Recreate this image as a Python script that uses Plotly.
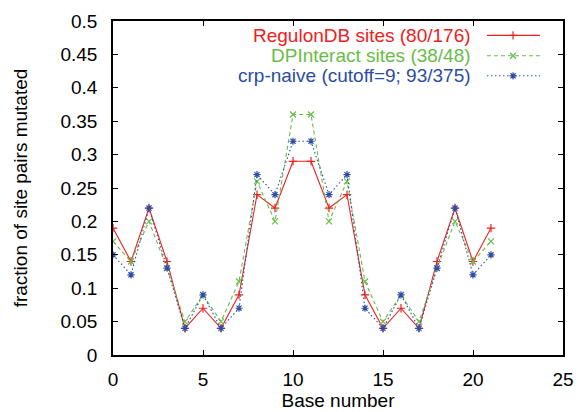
import plotly.graph_objects as go

base = list(range(22))
regulondb = [0.19, 0.14, 0.22, 0.14, 0.04, 0.07, 0.04, 0.09, 0.24, 0.22, 0.29,
             0.29, 0.22, 0.24, 0.09, 0.04, 0.07, 0.04, 0.14, 0.22, 0.14, 0.19]
dpinteract = [0.17, 0.14, 0.20, 0.13, 0.05, 0.09, 0.05, 0.11, 0.26, 0.20, 0.36,
              0.36, 0.20, 0.26, 0.11, 0.05, 0.09, 0.05, 0.13, 0.20, 0.14, 0.17]
crp_naive = [0.15, 0.12, 0.22, 0.13, 0.04, 0.09, 0.04, 0.07, 0.27, 0.24, 0.32,
             0.32, 0.24, 0.27, 0.07, 0.04, 0.09, 0.04, 0.13, 0.22, 0.12, 0.15]

series_names = ["RegulonDB sites (80/176)", "DPInteract sites (38/48)",
                "crp-naive (cutoff=9; 93/375)"]
x_ticks = [0, 5, 10, 15, 20, 25]
y_ticks = [0, 0.05, 0.1, 0.15, 0.2, 0.25, 0.3, 0.35, 0.4, 0.45, 0.5]
y_tick_text = ["0", "0.05", "0.1", "0.15", "0.2", "0.25", "0.3", "0.35", "0.4", "0.45", "0.5"]

colors = ["#ee2020", "#68bd48", "#2c4ca6"]
dashes = ["solid", "4px,3px", "1.5px,2.5px"]
symbols = ["cross-thin-open", "x-thin-open", "asterisk-open"]
FONT = "Liberation Sans, Arial, Helvetica, sans-serif"

fig = go.Figure()
for name, vals, c, d, s in zip(series_names, [regulondb, dpinteract, crp_naive], colors, dashes, symbols):
    fig.add_trace(go.Scatter(
        x=base, y=vals, mode="lines+markers", name=name,
        line=dict(color=c, width=1.1, dash=d),
        marker=dict(symbol=s, size=6, color=c, line=dict(color=c, width=1.2)),
        showlegend=False))

# legend samples on an overlay axis (unit square of plot area)
leg_y = [0.957, 0.896, 0.836]
for name, c, d, s, yy in zip(series_names, colors, dashes, symbols, leg_y):
    fig.add_trace(go.Scatter(
        x=[0.831, 0.949], y=[yy, yy], xaxis="x2", yaxis="y2", mode="lines",
        line=dict(color=c, width=1.1, dash=d), showlegend=False, hoverinfo="skip"))
    fig.add_trace(go.Scatter(
        x=[0.889], y=[yy], xaxis="x2", yaxis="y2", mode="markers",
        marker=dict(symbol=s, size=6, color=c, line=dict(color=c, width=1.2)),
        showlegend=False, hoverinfo="skip"))
    fig.add_annotation(x=0.80, y=yy, xref="x2", yref="y2", text=name, showarrow=False,
                       xanchor="right", yanchor="middle",
                       font=dict(family=FONT, size=19, color=c))

axis_common = dict(showline=True, linecolor="black", linewidth=1.5, mirror="ticks",
                   ticks="inside", ticklen=5, tickcolor="black", tickwidth=1,
                   showgrid=False, zeroline=False, automargin=False,
                   tickfont=dict(family=FONT, size=19, color="black"))

fig.update_layout(
    width=578, height=412,
    margin=dict(l=113, r=15, t=21, b=57),
    plot_bgcolor="white", paper_bgcolor="white",
    xaxis=dict(range=[0, 25], tickvals=x_ticks, ticktext=[str(v) for v in x_ticks],
               ticklabelstandoff=6,
               title=dict(text="Base number", font=dict(family=FONT, size=19, color="black"),
                          standoff=2),
               **axis_common),
    yaxis=dict(range=[0, 0.5], tickvals=y_ticks, ticktext=y_tick_text,
               ticklabelstandoff=10,
               title=dict(text="fraction of site pairs mutated",
                          font=dict(family=FONT, size=19, color="black"), standoff=28),
               **axis_common),
    xaxis2=dict(overlaying="x", range=[0, 1], visible=False),
    yaxis2=dict(overlaying="y", range=[0, 1], visible=False),
)

fig.write_html("out.html")
